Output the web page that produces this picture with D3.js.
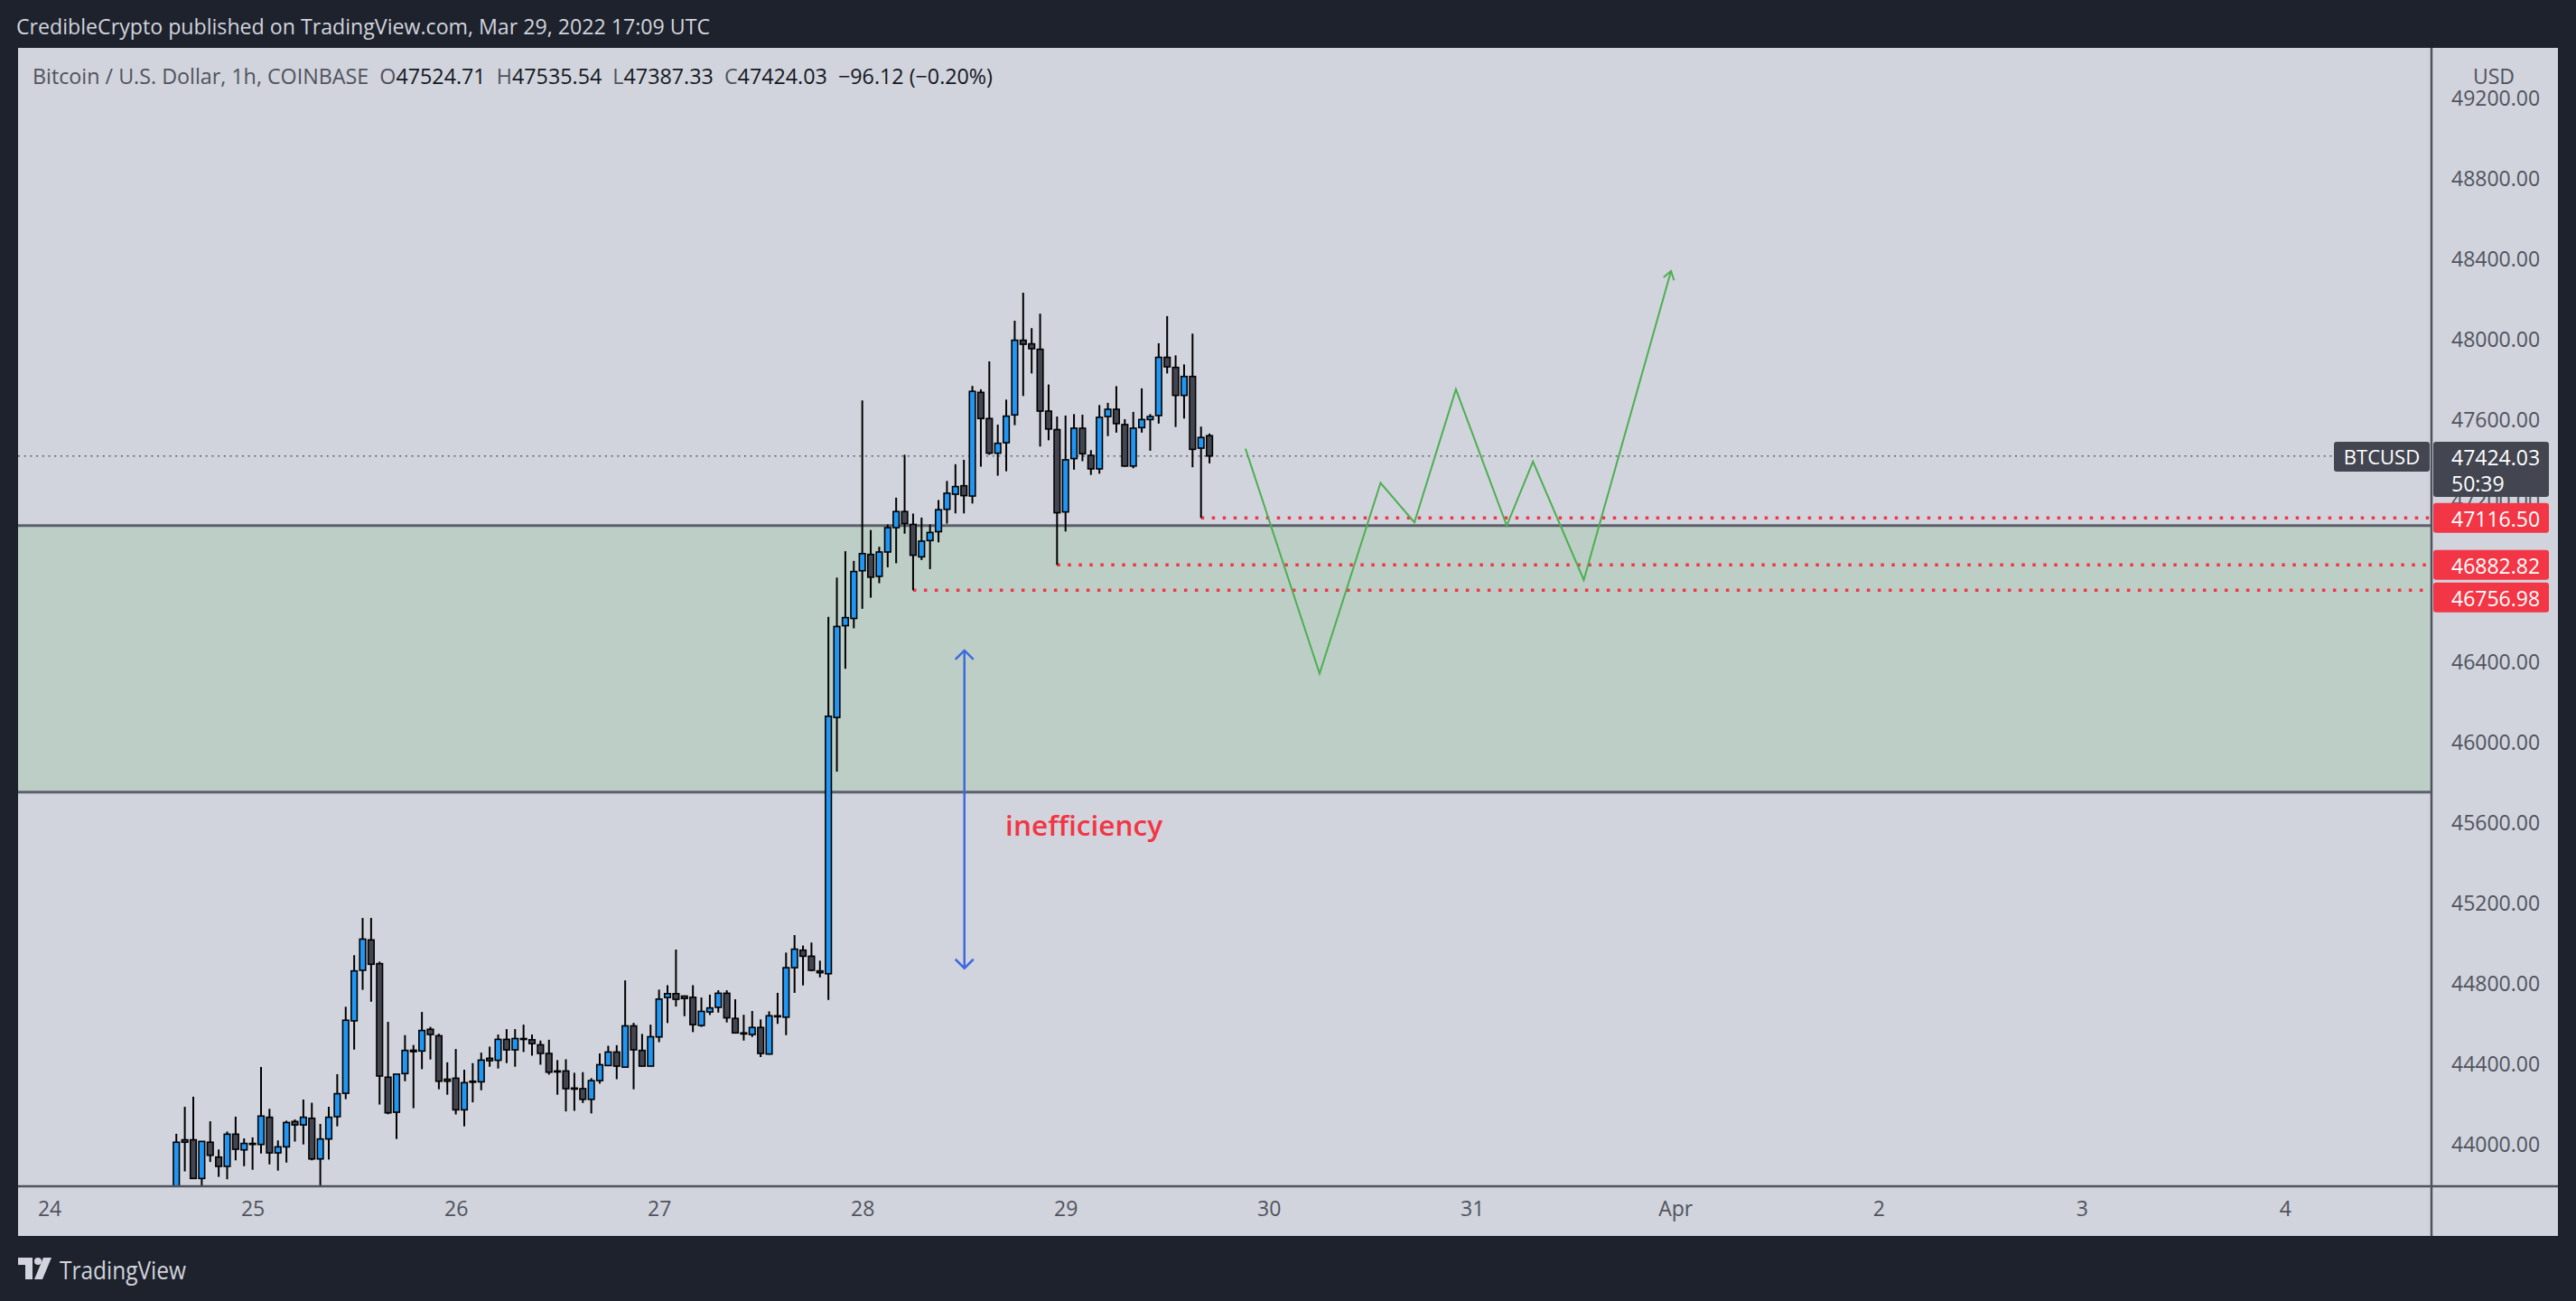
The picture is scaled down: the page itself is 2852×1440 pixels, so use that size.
<!DOCTYPE html>
<meta charset="utf-8">
<head>
    <title>BTCUSD 1h</title>
</head>
<style>
    body { margin: 0; background: #1e222d; }
    svg { display: block; }
    text { font-family: "Open Sans", sans-serif; }
</style>
<body>
    <svg width="2852" height="1440"></svg>

    <script src="https://cdnjs.cloudflare.com/ajax/libs/d3/7.8.5/d3.min.js"></script>
    <script>
        // hourly candles, first one is Mar 24 15:00 UTC
        var startHour = 15
        var opens = [43700, 44027, 44027, 43835, 44015, 43941, 43895, 44055, 43977, 44009, 44004, 44139, 43962, 43992, 44118, 44101, 44134, 43932, 44031, 44142,
            44258, 44618, 44869, 45020, 44902, 44338, 44164, 44356, 44472, 44468, 44576, 44544, 44328, 44333, 44176, 44318, 44315, 44432, 44422, 44526,
            44474, 44530, 44524, 44499, 44456, 44369, 44369, 44284, 44281, 44228, 44321, 44396, 44463, 44388, 44593, 44471, 44393, 44538, 44734, 44753,
            44741, 44735, 44595, 44662, 44685, 44755, 44630, 44558, 44550, 44585, 44453, 44643, 44636, 44882, 44969, 44939, 44866, 44852, 46125, 46581,
            46617, 46854, 46935, 46826, 46947, 47068, 47148, 47084, 46923, 47004, 47048, 47159, 47234, 47276, 47225, 47740, 47610, 47438, 47490, 47628,
            47999, 47981, 47954, 47647, 47555, 47146, 47411, 47562, 47427, 47360, 47620, 47656, 47580, 47374, 47565, 47605, 47625, 47914, 47864, 47725,
            47819, 47463, 47524.71]
        var highs = [44057, 44191, 44241, 44019, 44119, 43979, 44068, 44142, 44034, 44039, 44389, 44181, 44024, 44122, 44128, 44227, 44211, 44106, 44191, 44353,
            44688, 44944, 45129, 45129, 44912, 44613, 44353, 44547, 44498, 44662, 44588, 44554, 44412, 44478, 44375, 44408, 44460, 44490, 44550, 44577,
            44577, 44599, 44550, 44520, 44524, 44423, 44427, 44360, 44363, 44333, 44456, 44494, 44497, 44819, 44608, 44553, 44599, 44773, 44795, 44972,
            44744, 44795, 44734, 44748, 44770, 44770, 44725, 44648, 44667, 44625, 44665, 44757, 44957, 45044, 44992, 45007, 44917, 46625, 46820, 46951,
            46903, 47700, 47056, 46973, 47084, 47217, 47430, 47138, 47118, 47084, 47205, 47300, 47383, 47405, 47772, 47755, 47894, 47580, 47704, 48096,
            48235, 48059, 48131, 47779, 47620, 47625, 47632, 47629, 47453, 47677, 47688, 47771, 47607, 47643, 47760, 47632, 47984, 48119, 47924, 47879,
            48032, 47570, 47535.54]
        var lows = [43650, 43870, 43832, 43790, 43917, 43843, 43831, 43925, 43896, 43878, 43959, 43905, 43874, 43914, 44018, 44004, 43925, 43780, 43929, 44094,
            44229, 44475, 44772, 44713, 44202, 44154, 44031, 44318, 44184, 44378, 44426, 44278, 44251, 44153, 44094, 44213, 44273, 44390, 44381, 44408,
            44390, 44463, 44445, 44400, 44351, 44251, 44168, 44171, 44210, 44158, 44306, 44393, 44328, 44388, 44278, 44393, 44393, 44512, 44607, 44689,
            44641, 44562, 44588, 44647, 44659, 44610, 44558, 44520, 44538, 44438, 44450, 44603, 44547, 44757, 44794, 44864, 44834, 44722, 45856, 46367,
            46568, 46665, 46720, 46792, 46871, 46891, 47038, 46756.98, 46907, 46862, 46995, 47088, 47139, 47139, 47188, 47371, 47430, 47326, 47348, 47577,
            47722, 47834, 47471, 47502, 46882.82, 47049, 47356, 47398, 47330, 47336, 47523, 47540, 47371, 47363, 47540, 47450, 47585, 47834, 47568, 47610,
            47368, 47116.50, 47387.33]
        var closes = [44015, 44015, 43835, 44019, 43950, 43895, 44055, 43980, 44009, 44004, 44145, 43962, 43992, 44113, 44101, 44139, 43932, 44031, 44139, 44256,
            44621, 44866, 45024, 44899, 44344, 44161, 44353, 44471, 44465, 44570, 44550, 44318, 44318, 44176, 44311, 44313, 44423, 44420, 44526, 44474,
            44530, 44526, 44505, 44456, 44363, 44364, 44281, 44279, 44228, 44321, 44400, 44463, 44393, 44593, 44474, 44393, 44539, 44726, 44753, 44725,
            44729, 44599, 44665, 44682, 44755, 44633, 44558, 44553, 44585, 44456, 44643, 44640, 44882, 44974, 44939, 44869, 44857, 46131, 46577, 46621,
            46850, 46939, 46822, 46947, 47068, 47148, 47088, 46931, 47001, 47044, 47157, 47239, 47272, 47227, 47745, 47610, 47438, 47487, 47622, 47999,
            47979, 47957, 47647, 47558, 47142, 47405, 47562, 47435, 47360, 47616, 47656, 47585, 47374, 47562, 47605, 47620, 47914, 47867, 47725, 47819,
            47457, 47516, 47424.03]

        // price scale labels (46800 sits under the red level labels, so it is not shown)
        var priceTicks = [44000, 44400, 44800, 45200, 45600, 46000, 46400, 47200, 47600, 48000, 48400, 48800, 49200]
        var dayTicks = [[0, '24'], [24, '25'], [48, '26'], [72, '27'], [96, '28'], [120, '29'], [144, '30'], [168, '31'], [192, 'Apr'], [216, '2'], [240, '3'], [264, '4']]

        // drawings: zone, levels, projection, inefficiency arrow
        var zone = [45754, 47078]
        var levels = [[136, 47116.50], [119, 46882.82], [102, 46756.98]]
        var projection = [[141.25, 47461], [150, 46343], [157.2, 47290], [161.2, 47094], [166.1, 47755], [172.1, 47078], [175.2, 47396], [181.2, 46808], [191.5, 48343]]
        var gapArrow = [[108.06, 46458], [108.06, 44879]]
        var lastPrice = 47424.03

        var W = 2852, H = 1440
        // note: "top" is taken by window.top, so plot edges get their own names
        var pL = 20, pR = 2692, pT = 53, pB = 1313
        var t0 = Date.UTC(2022, 2, 24)
        var hour = 3600e3
        function T(h) { return new Date(t0 + h * hour) }

        var x = d3.scaleUtc()
            .domain([T(-3.69), T(281.3)])
            .range([pL, pR])
        var y = d3.scaleLinear()
            .domain([44000, 49200])
            .range([1267.6, 109])

        var candles = opens.map(function (o, i) {
            return { t: T(startHour + i), o: o, h: highs[i], l: lows[i], c: closes[i] }
        })

        var svg = d3.select('svg')

        // frame
        svg.append('rect').attr('width', W).attr('height', H).attr('fill', '#1e222d')
        svg.append('rect')
            .attr('x', pL).attr('y', pT).attr('width', 2832 - pL).attr('height', 1368 - pT)
            .attr('fill', '#d1d4dc')

        svg.append('text')
            .attr('x', 18).attr('y', 29).attr('dominant-baseline', 'central')
            .attr('font-size', 23).attr('fill', '#d1d4dc')
            .attr('textLength', 768).attr('lengthAdjust', 'spacingAndGlyphs')
            .text('CredibleCrypto published on TradingView.com, Mar 29, 2022 17:09 UTC')

        var defs = svg.append('defs')
        defs.append('clipPath').attr('id', 'plotclip')
            .append('rect').attr('x', pL).attr('y', pT).attr('width', pR - pL).attr('height', pB - pT)

        defs.append('marker').attr('id', 'headGreen')
            .attr('viewBox', '-12 -8 14 16').attr('markerWidth', 14).attr('markerHeight', 16)
            .attr('markerUnits', 'userSpaceOnUse').attr('orient', 'auto')
            .append('path').attr('d', 'M-9,-6L0,0L-9,6').attr('fill', 'none').attr('stroke', '#4caf50').attr('stroke-width', 2)
        defs.append('marker').attr('id', 'headBlue')
            .attr('viewBox', '-14 -12 16 24').attr('markerWidth', 16).attr('markerHeight', 24)
            .attr('markerUnits', 'userSpaceOnUse').attr('orient', 'auto-start-reverse')
            .append('path').attr('d', 'M-10,-10L0,0L-10,10').attr('fill', 'none').attr('stroke', '#3d6ae0').attr('stroke-width', 2.5)

        var plot = svg.append('g').attr('clip-path', 'url(#plotclip)')

        // zone
        plot.append('rect')
            .attr('x', pL).attr('width', pR - pL)
            .attr('y', y(zone[1])).attr('height', y(zone[0]) - y(zone[1]))
            .attr('fill', '#bdcec6')
        plot.selectAll('line.zone')
            .data(zone)
            .enter().append('line')
            .attr('class', 'zone')
            .attr('x1', pL).attr('x2', pR)
            .attr('y1', function (d) { return y(d) }).attr('y2', function (d) { return y(d) })
            .attr('stroke', '#5d606b').attr('stroke-width', 3)

        // last price line
        plot.append('line')
            .attr('x1', pL).attr('x2', 2584)
            .attr('y1', y(lastPrice)).attr('y2', y(lastPrice))
            .attr('stroke', '#5d606b').attr('stroke-width', 1.6).attr('stroke-dasharray', '2 4.7')

        // levels
        plot.selectAll('line.level')
            .data(levels)
            .enter().append('line')
            .attr('class', 'level')
            .attr('x1', function (d) { return x(T(d[0])) }).attr('x2', pR)
            .attr('y1', function (d) { return y(d[1]) }).attr('y2', function (d) { return y(d[1]) })
            .attr('stroke', '#f23645').attr('stroke-width', 3.4).attr('stroke-dasharray', '3.5 8.5')

        // candles
        var bw = (x(T(1)) - x(T(0))) * 0.7
        var g = plot.selectAll('g.candle')
            .data(candles)
            .enter().append('g')
            .attr('class', 'candle')
        g.append('line')
            .attr('x1', function (d) { return x(d.t) }).attr('x2', function (d) { return x(d.t) })
            .attr('y1', function (d) { return y(d.h) }).attr('y2', function (d) { return y(d.l) })
            .attr('stroke', '#000').attr('stroke-width', 2)
        g.append('rect')
            .attr('x', function (d) { return x(d.t) - bw / 2 })
            .attr('width', bw)
            .attr('y', function (d) { return y(Math.max(d.o, d.c)) })
            .attr('height', function (d) { return Math.max(1, Math.abs(y(d.o) - y(d.c))) })
            .attr('fill', function (d) { return d.c >= d.o ? '#2196f3' : '#434651' })
            .attr('stroke', '#000').attr('stroke-width', 1.6)

        // projection path
        var line = d3.line()
            .x(function (d) { return x(T(d[0])) })
            .y(function (d) { return y(d[1]) })
        plot.append('path')
            .datum(projection)
            .attr('d', line)
            .attr('fill', 'none').attr('stroke', '#4caf50').attr('stroke-width', 2)
            .attr('marker-end', 'url(#headGreen)')

        plot.append('path')
            .datum(gapArrow)
            .attr('d', line)
            .attr('fill', 'none').attr('stroke', '#3d6ae0').attr('stroke-width', 2.5)
            .attr('marker-start', 'url(#headBlue)').attr('marker-end', 'url(#headBlue)')

        plot.append('text')
            .attr('x', x(T(112.9))).attr('y', y(45591))
            .attr('dominant-baseline', 'central')
            .attr('font-size', 31).attr('font-weight', 600).attr('fill', '#f23645')
            .attr('textLength', 174).attr('lengthAdjust', 'spacingAndGlyphs')
            .text('inefficiency')

        // legend
        var legend = svg.append('text')
            .attr('x', 36).attr('y', 84).attr('dominant-baseline', 'central')
            .attr('font-size', 23).attr('fill', '#131722')
            .attr('textLength', 1063).attr('lengthAdjust', 'spacingAndGlyphs')
        legend.append('tspan').attr('fill', '#50535e').text('Bitcoin / U.S. Dollar, 1h, COINBASE\u00a0\u00a0')
        ;[['O', '47524.71'], ['H', '47535.54'], ['L', '47387.33'], ['C', '47424.03']].forEach(function (p) {
            legend.append('tspan').attr('fill', '#50535e').text(p[0])
            legend.append('tspan').text(p[1] + '\u00a0\u00a0')
        })
        legend.append('tspan').text('\u221296.12 (\u22120.20%)')

        // separators
        svg.append('line').attr('x1', pR).attr('x2', pR).attr('y1', pT).attr('y2', 1368)
            .attr('stroke', '#50535e').attr('stroke-width', 2.5)
        svg.append('line').attr('x1', pL).attr('x2', 2832).attr('y1', pB).attr('y2', pB)
            .attr('stroke', '#50535e').attr('stroke-width', 2.5)

        // price axis
        var yAxis = d3.axisRight(y)
            .tickValues(priceTicks)
            .tickSize(0)
            .tickPadding(0)
            .tickFormat(d3.format('.2f'))
        var ya = svg.append('g')
            .attr('transform', 'translate(2714,0)')
            .call(yAxis)
        ya.select('.domain').remove()
        ya.selectAll('text')
            .attr('font-family', '"Open Sans", sans-serif')
            .attr('font-size', 23).attr('fill', '#50535e')
            .attr('x', 0)

        svg.append('text')
            .attr('x', 2761).attr('y', 84).attr('text-anchor', 'middle').attr('dominant-baseline', 'central')
            .attr('font-size', 23).attr('fill', '#50535e')
            .text('USD')

        // time axis
        var xAxis = d3.axisBottom(x)
            .tickValues(dayTicks.map(function (d) { return T(d[0]) }))
            .tickSize(0)
            .tickPadding(0)
            .tickFormat(function (d, i) { return dayTicks[i][1] })
        var xa = svg.append('g')
            .attr('transform', 'translate(0,1330)')
            .call(xAxis)
        xa.select('.domain').remove()
        xa.selectAll('text')
            .attr('font-family', '"Open Sans", sans-serif')
            .attr('font-size', 23).attr('fill', '#50535e')

        // price labels
        svg.append('rect')
            .attr('x', 2584).attr('y', 489).attr('width', 106).attr('height', 33).attr('rx', 3)
            .attr('fill', '#434651')
        svg.append('text')
            .attr('x', 2637).attr('y', y(lastPrice)).attr('text-anchor', 'middle').attr('dominant-baseline', 'central')
            .attr('font-size', 22).attr('fill', '#fff')
            .text('BTCUSD')
        svg.append('rect')
            .attr('x', 2694).attr('y', 489).attr('width', 128).attr('height', 61).attr('rx', 3)
            .attr('fill', '#434651')
        svg.append('text')
            .attr('x', 2714).attr('y', y(lastPrice) + 1).attr('dominant-baseline', 'central')
            .attr('font-size', 23).attr('fill', '#fff')
            .text(d3.format('.2f')(lastPrice))
        svg.append('text')
            .attr('x', 2714).attr('y', 535).attr('dominant-baseline', 'central')
            .attr('font-size', 23).attr('fill', '#fff')
            .text('50:39')

        var labelY = levels.map(function (d, i) { return y(d[1]) + (i == 2 ? 8 : 0) })
        var lab = svg.selectAll('g.level-label')
            .data(levels)
            .enter().append('g')
            .attr('class', 'level-label')
        lab.append('rect')
            .attr('x', 2694).attr('width', 128).attr('height', 33).attr('rx', 3)
            .attr('y', function (d, i) { return labelY[i] - 16.5 })
            .attr('fill', '#f23645')
        lab.append('text')
            .attr('x', 2714).attr('y', function (d, i) { return labelY[i] + 1 })
            .attr('dominant-baseline', 'central')
            .attr('font-size', 23).attr('fill', '#fff')
            .text(function (d) { return d3.format('.2f')(d[1]) })

        // footer logo
        var logo = svg.append('g').attr('transform', 'translate(20,1392)').attr('fill', '#d1d4dc')
        logo.append('path').attr('d', 'M0,0H16V24H8V8H0Z')
        logo.append('circle').attr('cx', 22).attr('cy', 4).attr('r', 4)
        logo.append('path').attr('d', 'M28,0H37L27,24H18Z')
        svg.append('text')
            .attr('x', 66).attr('y', 1405).attr('dominant-baseline', 'central')
            .attr('font-size', 27).attr('fill', '#d1d4dc')
            .attr('textLength', 140).attr('lengthAdjust', 'spacingAndGlyphs')
            .text('TradingView')
    </script>
</body>
</html>
